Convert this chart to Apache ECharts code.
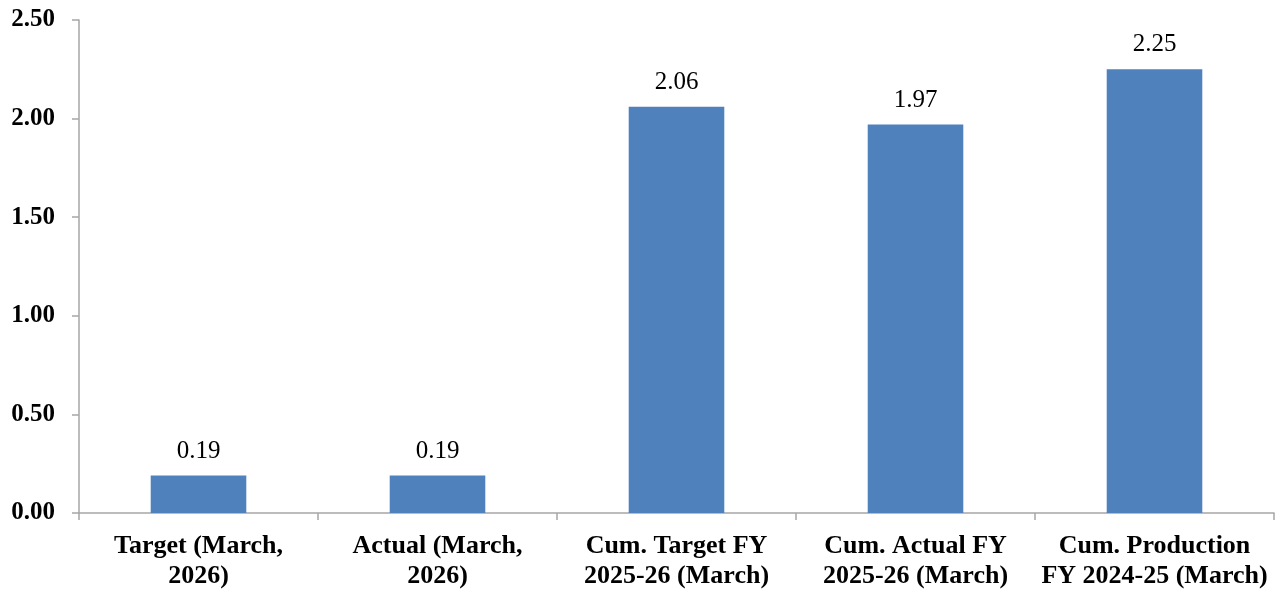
<!DOCTYPE html>
<html>
<head>
<meta charset="utf-8">
<script src="https://cdn.jsdelivr.net/npm/echarts@6/dist/echarts.min.js"></script>
<style>
html,body{margin:0;padding:0;background:#fff;}
#chart{width:1285px;height:591px;}
</style>
</head>
<body>
<div id="chart"></div>
<script>
var categories = [
    'Target (March,\n2026)',
    'Actual (March,\n2026)',
    'Cum. Target FY\n2025-26 (March)',
    'Cum. Actual FY\n2025-26 (March)',
    'Cum. Production\nFY 2024-25 (March)'
]
var values = [0.19, 0.19, 2.06, 1.97, 2.25]

var font = '"Liberation Serif", "Times New Roman", serif'
var axisGray = '#a6a6a6'

var chart = echarts.init(document.getElementById('chart'))
chart.setOption({
    animation:false,
    grid:{
        left:79,
        right:11,
        top:20,
        bottom:78
    },
    xAxis:{
        type:'category',
        data:categories,
        axisLine:{lineStyle:{color:axisGray,width:1.5}},
        axisTick:{show:true,length:7,alignWithLabel:false,lineStyle:{color:axisGray,width:1.5}},
        axisLabel:{
            interval:0,
            margin:18,
            color:'#000',
            fontFamily:font,
            fontWeight:'bold',
            fontSize:26,
            lineHeight:30
        }
    },
    yAxis:{
        type:'value',
        min:0,
        max:2.5,
        interval:0.5,
        splitLine:{show:false},
        axisLine:{show:true,lineStyle:{color:axisGray,width:1.5}},
        axisTick:{show:true,length:7,lineStyle:{color:axisGray,width:1.5}},
        axisLabel:{
            margin:24,
            color:'#000',
            fontFamily:font,
            fontWeight:'bold',
            fontSize:25,
            formatter:function(v){return v.toFixed(2)}
        }
    },
    series:[{
        type:'bar',
        data:values,
        barWidth:'40%',
        itemStyle:{color:'#4f81bd'},
        label:{
            show:true,
            position:'top',
            distance:12,
            color:'#000',
            fontFamily:font,
            fontSize:25,
            formatter:function(p){return p.value.toFixed(2)}
        }
    }]
})
</script>
</body>
</html>
